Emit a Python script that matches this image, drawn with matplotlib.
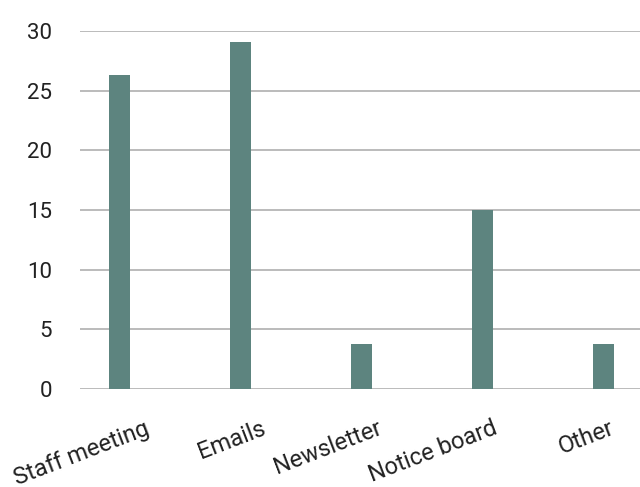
import matplotlib.pyplot as plt
import numpy as np

# ============================================================
# DATA
# ============================================================
categories = ['Staff meeting', 'Emails', 'Newsletter', 'Notice board', 'Other']
values     = [26.3, 29.1, 3.8, 15.0, 3.8]
y_ticks    = [0, 5, 10, 15, 20, 25, 30]

BAR_COLOR  = '#5d847f'
GRID_COLOR = '#b5b5b5'
TEXT_COLOR = '#222222'

plt.rcParams['font.family'] = ['Roboto', 'DejaVu Sans']

fig = plt.figure(figsize=(6.4, 4.87), dpi=100)
ax = fig.add_axes([0.125, 0.201, 0.875, 0.735])

x = np.arange(len(categories))
ax.bar(x, values, width=0.175, color=BAR_COLOR, zorder=3)

ax.set_ylim(0, 30)
ax.set_xlim(-0.33, 4.3)
ax.set_yticks(y_ticks)
ax.yaxis.grid(True, color=GRID_COLOR, linewidth=1.3, zorder=0)

# label slots: spaced a touch tighter than the bars and ending just right of them
ax.set_xticks(x * 0.96 + 0.2)
ax.set_xticklabels(categories, rotation=21, ha='right', rotation_mode='anchor')

ax.tick_params(axis='y', length=0, pad=20, labelsize=16, labelcolor=TEXT_COLOR)
ax.tick_params(axis='x', length=0, pad=20, labelsize=17, labelcolor=TEXT_COLOR)
for side in ['top', 'right', 'left', 'bottom']:
    ax.spines[side].set_visible(False)

fig.savefig('out.png', dpi=100)
